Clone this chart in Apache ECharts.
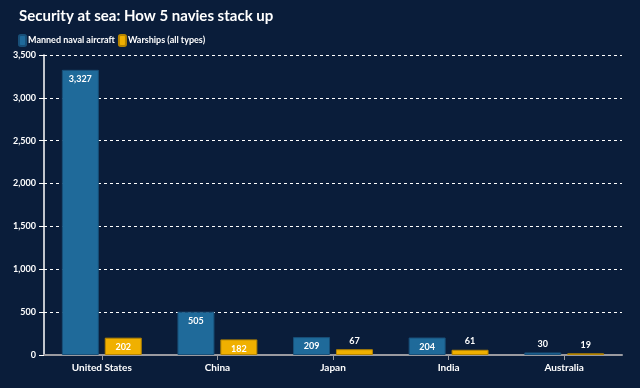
<!DOCTYPE html>
<html>
<head>
<meta charset="utf-8">
<script src="https://cdn.jsdelivr.net/npm/echarts@6/dist/echarts.min.js"></script>
<style>
html, body { margin: 0; padding: 0; background: #0a1d3a; }
#main { width: 640px; height: 388px; }
</style>
</head>
<body>
<div id="main"></div>
<script>
var countries = ['United States', 'China', 'Japan', 'India', 'Australia'],
    aircraft = [3327, 505, 209, 204, 30],
    warships = [202, 182, 67, 61, 19],
    yTicks = [0, 500, 1000, 1500, 2000, 2500, 3000, 3500],
    myChart = echarts.init(document.getElementById('main'));

// big bars get the number inside, small ones above
function withLabels(values) {
    return values.map(function (v) {
        return {
            value: v,
            label: { position: v > 100 ? 'insideTop' : 'top', distance: v > 100 ? 5 : 4 }
        };
    });
}

var labelStyle = {
    show: true,
    color: '#ffffff',
    fontSize: 9,
    fontWeight: 'bold',
    fontFamily: 'Lato',
    formatter: function (p) { return p.value.toLocaleString('en-US'); }
};

var option = {
    backgroundColor: '#0a1d3a',
    textStyle: { fontFamily: 'Lato' },
    title: {
        text: 'Security at sea: How 5 navies stack up',
        left: 14,
        top: 4,
        textStyle: { color: '#ffffff', fontSize: 15, fontWeight: 'bold', fontFamily: 'Lato' }
    },
    legend: {
        left: 13,
        top: 29,
        itemWidth: 7,
        itemHeight: 11,
        itemGap: 3,
        icon: 'roundRect',
        textStyle: { color: '#ffffff', fontSize: 9, fontWeight: 'bold', padding: [0, 0, 0, -3] },
        data: ['Manned naval aircraft', 'Warships (all types)']
    },
    grid: { left: 44, right: 18, top: 55, bottom: 33 },
    xAxis: {
        type: 'category',
        data: countries,
        axisLine: { lineStyle: { color: '#9a9aa0', width: 2 } },
        axisTick: { show: true, alignWithLabel: true, length: 5, lineStyle: { color: '#9a9aa0' } },
        axisLabel: { color: '#ffffff', fontSize: 10, fontWeight: 'bold', margin: 8 }
    },
    yAxis: {
        type: 'value',
        min: 0,
        max: yTicks[yTicks.length - 1],
        interval: 500,
        axisLine: { show: true, lineStyle: { color: '#ffffff', width: 1.5 } },
        axisTick: { show: true, length: 5, lineStyle: { color: '#ffffff' } },
        axisLabel: {
            color: '#ffffff',
            fontSize: 9,
            fontWeight: 'bold',
            margin: 8,
            formatter: function (v) { return v.toLocaleString('en-US'); }
        },
        splitLine: { lineStyle: { color: '#ffffff', type: [3, 3], width: 1 } }
    },
    series: [{
        name: 'Manned naval aircraft',
        type: 'bar',
        data: withLabels(aircraft),
        barWidth: '32%',
        barGap: '16%',
        itemStyle: { color: '#1f6a9a', borderColor: '#184f78', borderWidth: 1 },
        label: labelStyle
    }, {
        name: 'Warships (all types)',
        type: 'bar',
        data: withLabels(warships),
        barWidth: '32%',
        itemStyle: { color: '#f0b000', borderColor: '#b58400', borderWidth: 1 },
        label: labelStyle
    }]
};

myChart.setOption(option);
</script>
</body>
</html>
